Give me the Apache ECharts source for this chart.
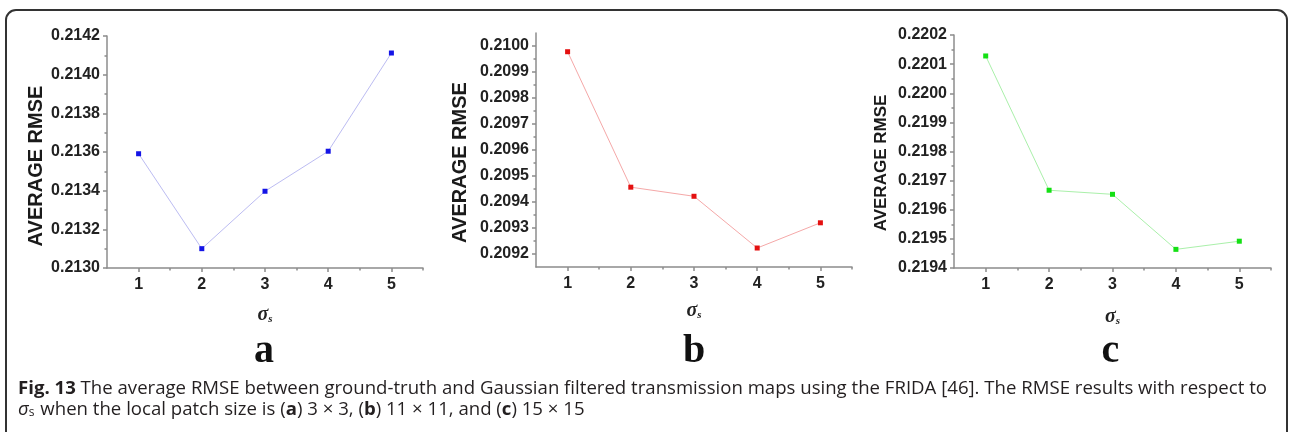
<!DOCTYPE html>
<html><head><meta charset="utf-8">
<script src="https://cdn.jsdelivr.net/npm/echarts@6/dist/echarts.min.js"></script>
<style>html,body{margin:0;padding:0;background:#fff}#c{width:1289px;height:432px}</style>
</head><body><div id="c"></div>
<script>
// ---- data ----
const xValues = [1, 2, 3, 4, 5];
const rmseA = [0.213591, 0.213100, 0.213397, 0.213604, 0.214112];
const rmseB = [0.209978, 0.209457, 0.209422, 0.209223, 0.209320];
const rmseC = [0.220128, 0.219667, 0.219653, 0.219464, 0.219492];
const yTicksA = [0.2130, 0.2132, 0.2134, 0.2136, 0.2138, 0.2140, 0.2142];
const yTicksB = [0.2092, 0.2093, 0.2094, 0.2095, 0.2096, 0.2097, 0.2098, 0.2099, 0.2100];
const yTicksC = [0.2194, 0.2195, 0.2196, 0.2197, 0.2198, 0.2199, 0.2200, 0.2201, 0.2202];
const panelLetters = ['a', 'b', 'c'];
const yTitle = 'AVERAGE RMSE';
const captionLine1 = '{b|Fig. 13} The average RMSE between ground-truth and Gaussian filtered transmission maps using the FRIDA [46]. The RMSE results with respect to';
const captionLine2 = '{sig|σ}{sub|s} when the local patch size is ({b|a}) 3 × 3, ({b|b}) 11 × 11, and ({b|c}) 15 × 15';

// ---- layout / style ----
const panels = [
  {grid:{left:107, top:36, width:316, height:232}, yMin:0.2130, yMax:0.2142, ticks:yTicksA, data:rmseA,
   line:'#bcbcf2', mark:'#1414e6', titleSize:20, titleGap:61, titleShift:28, xGap:36},
  {grid:{left:536, top:33, width:316, height:234}, yMin:0.20915, yMax:0.21005, ticks:yTicksB, data:rmseB,
   line:'#f5a8a8', mark:'#e41010', titleSize:20, titleGap:66, titleShift:25, xGap:33},
  {grid:{left:954, top:35, width:317, height:233}, yMin:0.2194, yMax:0.2202, ticks:yTicksC, data:rmseC,
   line:'#aaf0aa', mark:'#14e014', titleSize:17, titleGap:64, titleShift:23, xGap:38}
];
const axisColor = '#8c8c8c';
const labelFont = {fontFamily:'Liberation Sans', fontWeight:'bold', fontSize:16, color:'#222'};
const capSize = 18.6;

const grid = [], xAxis = [], yAxis = [], series = [], graphic = [];
panels.forEach((p, i) => {
  grid.push(Object.assign({containLabel:false}, p.grid));
  const minorX = xValues.map(v => v + 0.5);
  const step = p.ticks[1] - p.ticks[0];
  const minorY = p.ticks.map(v => v + step / 2).concat([p.ticks[0] - step / 2]);
  xAxis.push({
    type:'value', gridIndex:i, min:0.5, max:5.5, position:'bottom',
    axisLine:{show:true, lineStyle:{color:axisColor, width:1.5}},
    axisTick:{show:true, customValues:xValues, length:4, lineStyle:{color:axisColor, width:1.5}},
    axisLabel:Object.assign({customValues:xValues, margin:9}, labelFont),
    splitLine:{show:false},
    name:'{s|σ}{u|s}', nameLocation:'middle', nameGap:p.xGap,
    nameTextStyle:{rich:{
      s:{fontFamily:'Liberation Serif', fontStyle:'italic', fontWeight:'bold', fontSize:20, color:'#222'},
      u:{fontFamily:'Liberation Serif', fontStyle:'italic', fontWeight:'bold', fontSize:11, color:'#222', padding:[10,0,0,0]}
    }}
  });
  xAxis.push({
    type:'value', gridIndex:i, min:0.5, max:5.5, position:'bottom', offset:0,
    axisLine:{show:false},
    axisTick:{show:true, customValues:minorX, length:2.5, lineStyle:{color:axisColor, width:1.5}},
    axisLabel:{show:false}, splitLine:{show:false}
  });
  yAxis.push({
    type:'value', gridIndex:i, min:p.yMin, max:p.yMax, position:'left',
    axisLine:{show:true, lineStyle:{color:axisColor, width:1.5}},
    axisTick:{show:true, customValues:p.ticks, length:4, lineStyle:{color:axisColor, width:1.5}},
    axisLabel:Object.assign({customValues:p.ticks, margin:7, formatter:v => v.toFixed(4)}, labelFont),
    splitLine:{show:false},
    name:yTitle, nameLocation:'middle', nameRotate:90, nameGap:p.titleGap,
    nameTextStyle:{fontFamily:'Liberation Sans', fontWeight:'bold', fontSize:p.titleSize, color:'#1a1a1a', padding:[0,p.titleShift,0,0]}
  });
  yAxis.push({
    type:'value', gridIndex:i, min:p.yMin, max:p.yMax, position:'left', offset:0,
    axisLine:{show:false},
    axisTick:{show:true, customValues:minorY.filter(v => v > p.yMin && v < p.yMax), length:2.5, lineStyle:{color:axisColor, width:1.5}},
    axisLabel:{show:false}, splitLine:{show:false}
  });
  series.push({
    type:'line', xAxisIndex:2*i, yAxisIndex:2*i,
    data:xValues.map((x, k) => [x, p.data[k]]),
    symbol:'rect', symbolSize:5, showSymbol:true,
    lineStyle:{color:p.line, width:1},
    itemStyle:{color:p.mark},
    animation:false, z:3
  });
  graphic.push({
    type:'text', left:p.grid.left + p.grid.width/2 - 11, top:332,
    style:{text:panelLetters[i], font:'bold 40px "Liberation Serif"', fill:'#111'}
  });
});

graphic.push({type:'rect', shape:{x:6, y:10, width:1281, height:450, r:10}, style:{fill:null, stroke:'#333', lineWidth:2}, z:-1});
graphic.push({type:'text', left:18, top:379, style:{text:captionLine1, font:capSize + 'px "Open Sans"', fill:'#231f20',
  rich:{b:{fontWeight:'bold', fontFamily:'Open Sans', fontSize:capSize, fill:'#231f20'}}}});
graphic.push({type:'text', left:18, top:400, style:{text:captionLine2, font:capSize + 'px "Open Sans"', fill:'#231f20',
  rich:{b:{fontWeight:'bold', fontFamily:'Open Sans', fontSize:capSize},
        sig:{fontStyle:'italic', fontFamily:'Open Sans', fontSize:capSize},
        sub:{fontFamily:'Open Sans', fontSize:12, padding:[7,1,0,0]}}}});

const chart = echarts.init(document.getElementById('c'), null, {renderer:'canvas'});
chart.setOption({backgroundColor:'#fff', animation:false, grid, xAxis, yAxis, series, graphic});
</script></body></html>
